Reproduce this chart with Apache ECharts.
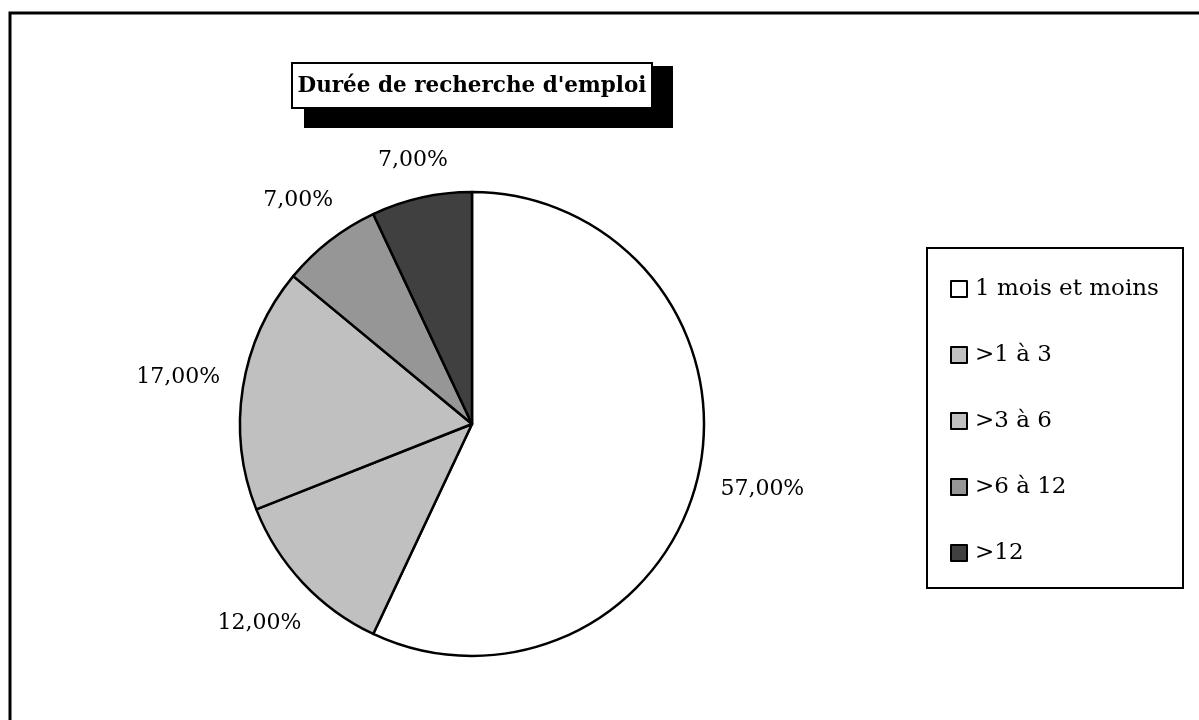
<!DOCTYPE html>
<html>
<head>
<meta charset="utf-8">
<script src="https://cdn.jsdelivr.net/npm/echarts@6/dist/echarts.min.js"></script>
<style>
  html, body { margin: 0; padding: 0; background: #fff; }
  #main { width: 1199px; height: 720px; }
</style>
</head>
<body>
<div id="main"></div>
<script>
  // données du graphique
  const categories = ['1 mois et moins', '>1 à 3', '>3 à 6', '>6 à 12', '>12'];
  const values = [57, 12, 17, 7, 7];
  const colors = ['#ffffff', '#c0c0c0', '#c0c0c0', '#969696', '#404040'];
  const titleText = "Durée de recherche d'emploi";

  const FONT = '"DejaVu Serif", serif';
  const CX = 472, CY = 424, R = 232, GAP = 22;

  const total = values.reduce((a, b) => a + b, 0);
  const cum = [];
  values.reduce((acc, v, i) => { cum[i] = acc; return acc + v; }, 0);

  // place l'étiquette à l'extérieur, le long de la bissectrice de la part
  function placeLabel(params) {
    const i = params.dataIndex;
    const mid = (cum[i] + values[i] / 2) / total * Math.PI * 2;
    const ux = Math.sin(mid), uy = -Math.cos(mid);
    const hw = params.labelRect.width / 2, hh = params.labelRect.height / 2;
    let t = R;
    for (; t < R + 300; t += 0.5) {
      const px = ux * t, py = uy * t;
      const nx = Math.max(Math.abs(px) - hw, 0);
      const ny = Math.max(Math.abs(py) - hh, 0);
      if (Math.sqrt(nx * nx + ny * ny) >= R + GAP) break;
    }
    return { x: CX + ux * t, y: CY + uy * t, align: 'center', verticalAlign: 'middle' };
  }

  const chart = echarts.init(document.getElementById('main'));

  const option = {
    backgroundColor: '#ffffff',
    animation: false,
    legend: {
      orient: 'vertical',
      left: 950,
      top: 277,
      padding: 0,
      itemWidth: 16,
      itemHeight: 16,
      itemGap: 42,
      icon: 'rect',
      data: categories,
      itemStyle: { borderColor: '#000', borderWidth: 2 },
      textStyle: { fontFamily: FONT, fontSize: 23, lineHeight: 24, color: '#000', padding: [0, 0, 0, 3] }
    },
    graphic: [
      // cadre extérieur
      { type: 'rect', z: 0, shape: { x: 10, y: 13, width: 1400, height: 900 },
        style: { fill: 'none', stroke: '#000', lineWidth: 3 } },
      // ombre du titre
      { type: 'rect', z: 10, shape: { x: 304, y: 66, width: 369, height: 62 },
        style: { fill: '#000' } },
      // boîte du titre
      { type: 'rect', z: 11, shape: { x: 292, y: 63, width: 360, height: 45 },
        style: { fill: '#fff', stroke: '#000', lineWidth: 2 } },
      { type: 'text', z: 12, x: 472, y: 86,
        style: { text: titleText, font: 'bold 21.5px ' + FONT, fill: '#000', align: 'center', verticalAlign: 'middle' } },
      // cadre de la légende
      { type: 'rect', z: 1, shape: { x: 927, y: 248, width: 256, height: 340 },
        style: { fill: '#fff', stroke: '#000', lineWidth: 2 } }
    ],
    series: [{
      type: 'pie',
      center: [CX, CY],
      radius: R,
      startAngle: 90,
      clockwise: true,
      z: 5,
      avoidLabelOverlap: false,
      itemStyle: { borderColor: '#000', borderWidth: 2.5 },
      label: {
        show: true,
        position: 'outside',
        fontFamily: FONT,
        fontSize: 22,
        color: '#000',
        formatter: p => p.value.toFixed(2).replace('.', ',') + '%'
      },
      labelLine: { show: false },
      labelLayout: placeLabel,
      emphasis: { disabled: true },
      data: categories.map((c, i) => ({ name: c, value: values[i], itemStyle: { color: colors[i] } }))
    }]
  };

  chart.setOption(option);
</script>
</body>
</html>
